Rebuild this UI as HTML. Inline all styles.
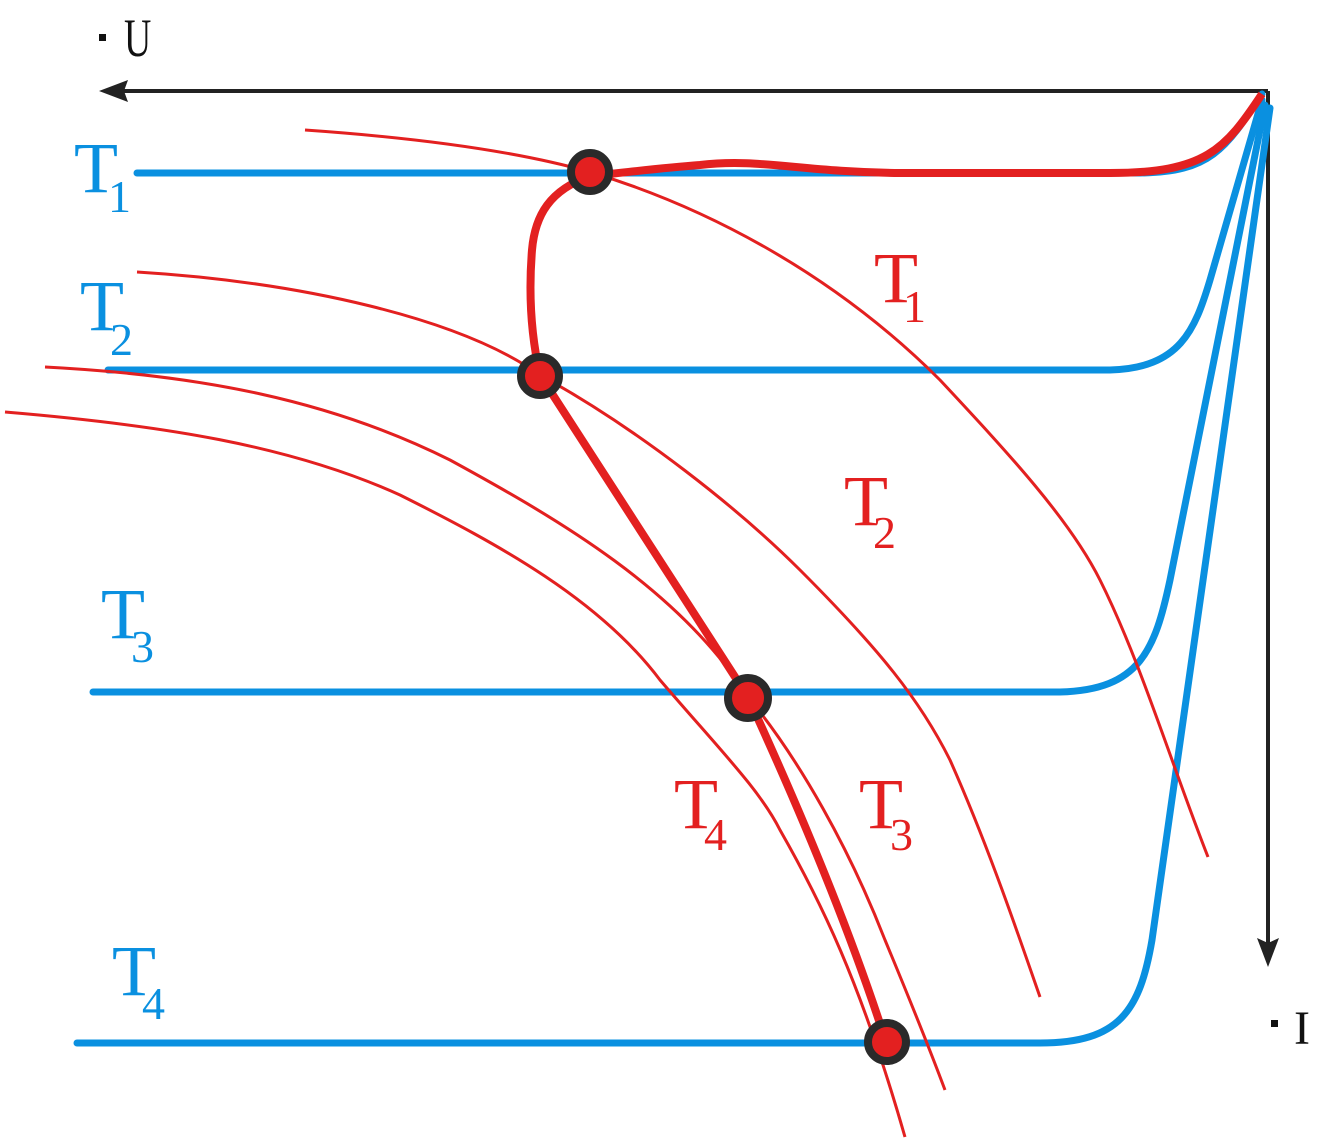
<!DOCTYPE html>
<html><head><meta charset="utf-8"><style>
html,body{margin:0;padding:0;background:#fff;}
svg{display:block;}
</style></head><body>
<svg width="1327" height="1145" viewBox="0 0 1327 1145" xmlns="http://www.w3.org/2000/svg" font-family="'Liberation Serif','DejaVu Serif',serif">
<g stroke="#222" stroke-width="4" fill="none">
<line x1="1268" y1="91" x2="120" y2="91"/>
<line x1="1268" y1="91" x2="1268" y2="945"/>
</g>
<polygon points="99,91 128,80 124,91 128,102" fill="#222"/>
<polygon points="1268,967 1257,938 1268,943 1279,938" fill="#222"/>
<rect x="99" y="34" width="7" height="7" fill="#111"/>
<text x="124" y="56" font-size="54" fill="#111" style="font-family:'Liberation Serif',serif" transform="translate(124,0) scale(0.7,1) translate(-124,0)">U</text>
<rect x="1271" y="1020" width="7" height="7" fill="#111"/>
<text x="1294" y="1044" font-size="48" fill="#111" style="font-family:'Liberation Serif',serif">I</text>

<g stroke="#0a90e0" stroke-width="7" fill="none" stroke-linecap="round">
<path d="M137,173 L1140,173 C1210,172 1225,150 1262,94"/>
<path d="M108,370 L1110,370 C1180,368 1195,330 1210,280 L1262,100"/>
<path d="M93,692 L1060,692 C1140,690 1155,650 1170,580 L1265,105"/>
<path d="M77,1043 L1040,1043 C1120,1043 1140,1010 1152,940 L1270,108"/>
</g>

<g stroke="#e32020" stroke-width="3" fill="none">
<path d="M305,130 C420,138 520,152 590,172 C700,205 830,270 940,380 C1010,455 1070,520 1100,580 C1140,660 1170,760 1208,857"/>
<path d="M137,272 C300,282 460,318 540,375 C640,430 740,510 800,570 C880,650 920,700 950,760 C990,850 1020,940 1040,997"/>
<path d="M45,367 C200,375 330,400 450,460 C560,520 680,590 748,697 C800,760 850,850 885,940 C910,1000 930,1050 945,1090"/>
<path d="M5,412 C160,425 290,445 400,495 C500,545 600,600 660,680 C720,750 760,790 780,830 C820,900 860,980 905,1137"/>
</g>

<path d="M1262,94 C1225,150 1205,173 1110,173 L900,173 C800,172 760,158 700,165 C660,168 630,172 590,176 C550,190 535,215 532,250 C528,300 532,340 540,375 L748,697 C800,810 850,930 886,1042" stroke="#e32020" stroke-width="8" fill="none" stroke-linejoin="round"/>

<g fill="#e32020" stroke="#2a2a2a" stroke-width="8">
<circle cx="590" cy="172" r="19"/>
<circle cx="540" cy="376" r="19"/>
<circle cx="748" cy="698" r="20"/>
<circle cx="887" cy="1042" r="19"/>
</g>

<g fill="#0a90e0" style="font-family:'Liberation Serif',serif">
<text x="74" y="192" font-size="72">T</text><text x="108" y="212" font-size="46">1</text>
<text x="80" y="330" font-size="72">T</text><text x="110" y="355" font-size="46">2</text>
<text x="101" y="638" font-size="72">T</text><text x="131" y="662" font-size="46">3</text>
<text x="112" y="995" font-size="72">T</text><text x="142" y="1019" font-size="46">4</text>
</g>
<g fill="#e32020" style="font-family:'Liberation Serif',serif">
<text x="874" y="302" font-size="72">T</text><text x="903" y="322" font-size="46">1</text>
<text x="844" y="525" font-size="72">T</text><text x="873" y="548" font-size="46">2</text>
<text x="859" y="828" font-size="72">T</text><text x="890" y="850" font-size="46">3</text>
<text x="674" y="828" font-size="72">T</text><text x="704" y="850" font-size="46">4</text>
</g>
</svg>
</body></html>
